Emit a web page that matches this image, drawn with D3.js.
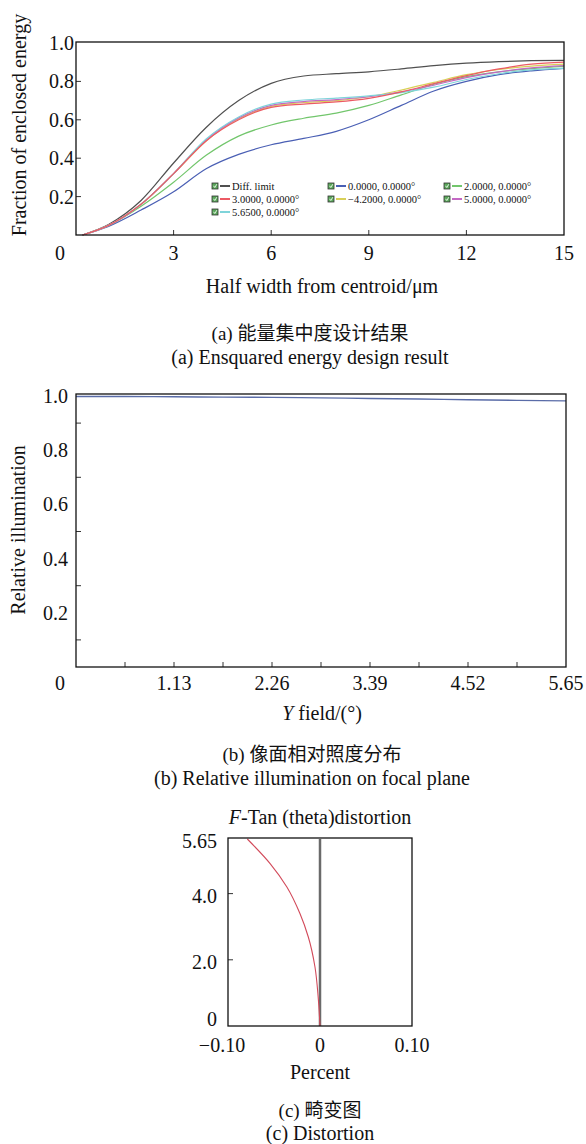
<!DOCTYPE html>
<html>
<head>
<meta charset="utf-8">
<script src="https://cdn.jsdelivr.net/npm/d3@7"></script>
<style>
  body { margin: 0; background: #fff; }
  text { font-family: "Liberation Serif", "Noto Sans CJK SC", serif; fill: #111; }
</style>
</head>
<body>
<div id="chart"></div>
<script>
// ---- data: (a) ensquared energy ----
var eeX = [0.2, 1, 2, 3, 4, 5, 6, 7, 8, 9, 10, 11, 12, 13, 14, 15];
var eeDiff   = [0, 0.055, 0.18, 0.375, 0.56, 0.70, 0.79, 0.828, 0.84, 0.85, 0.865, 0.882, 0.895, 0.903, 0.908, 0.91];
var eeF0     = [0, 0.045, 0.13, 0.225, 0.345, 0.42, 0.47, 0.503, 0.54, 0.60, 0.675, 0.75, 0.80, 0.835, 0.855, 0.868];
var eeF2     = [0, 0.05, 0.15, 0.275, 0.415, 0.515, 0.573, 0.608, 0.635, 0.675, 0.73, 0.785, 0.825, 0.85, 0.867, 0.878];
var eeF3     = [0, 0.05, 0.16, 0.32, 0.49, 0.60, 0.665, 0.682, 0.693, 0.712, 0.745, 0.788, 0.83, 0.865, 0.89, 0.90];
var eeFm42   = [0, 0.05, 0.16, 0.318, 0.49, 0.605, 0.67, 0.69, 0.70, 0.72, 0.755, 0.795, 0.835, 0.862, 0.88, 0.89];
var eeF5     = [0, 0.05, 0.16, 0.32, 0.495, 0.61, 0.675, 0.695, 0.705, 0.72, 0.745, 0.78, 0.82, 0.85, 0.87, 0.882];
var eeF565   = [0, 0.05, 0.16, 0.32, 0.50, 0.615, 0.682, 0.703, 0.713, 0.725, 0.742, 0.77, 0.81, 0.84, 0.86, 0.868];
var eeNames  = ["Diff. limit", "0.0000, 0.0000°", "2.0000, 0.0000°", "3.0000, 0.0000°", "\u22124.2000, 0.0000°", "5.0000, 0.0000°", "5.6500, 0.0000°"];
var eeXTicks = [0, 3, 6, 9, 12, 15];
var eeYTicks = [0.2, 0.4, 0.6, 0.8, 1.0];

// ---- data: (b) relative illumination ----
var riX = [0, 0.565, 1.13, 1.695, 2.26, 2.825, 3.39, 3.955, 4.52, 5.085, 5.65];
var riY = [0.998, 0.998, 0.997, 0.996, 0.995, 0.993, 0.991, 0.989, 0.986, 0.984, 0.982];
var riXTicks = [0, 1.13, 2.26, 3.39, 4.52, 5.65];
var riYTicks = [0.2, 0.4, 0.6, 0.8, 1.0];

// ---- data: (c) distortion ----
var dsField = [0, 0.88, 1.79, 2.69, 3.39, 4.2, 4.9, 5.65];
var dsPct   = [0, -0.002, -0.0055, -0.0127, -0.0217, -0.036, -0.054, -0.079];
var dsXTicks = [-0.10, 0, 0.10];
var dsYTicks = [0, 2.0, 4.0, 5.65];

var W = 586, H = 1144;
var FS = "20px";   // main text size
var svg = d3.select("#chart").append("svg")
  .attr("width", W).attr("height", H)
  .style("background", "#fff");

function label(x, y, txt, anchor, size) {
  return svg.append("text").attr("x", x).attr("y", y)
    .attr("text-anchor", anchor || "middle").attr("dominant-baseline", "central")
    .style("font-size", size || FS).text(txt);
}

function frame(x, y) {
  svg.append("rect")
    .attr("x", x.range()[0]).attr("y", y.range()[1] - 1)
    .attr("width", x.range()[1] - x.range()[0])
    .attr("height", y.range()[0] - y.range()[1] + 1)
    .attr("fill", "none").attr("stroke", "#111").attr("stroke-width", 1.3);
}

// ================= (a) =================
var xA = d3.scaleLinear().domain([0, 15]).range([76, 564]);
var yA = d3.scaleLinear().domain([0, 1]).range([235, 43]);

// inner ticks
svg.append("g").selectAll("line").data([3, 6, 9, 12]).enter().append("line")
  .attr("x1", d => xA(d)).attr("x2", d => xA(d))
  .attr("y1", yA(0)).attr("y2", yA(0) - 5)
  .attr("stroke", "#333");
svg.append("g").selectAll("line").data([0.2, 0.4, 0.6, 0.8]).enter().append("line")
  .attr("x1", xA(0)).attr("x2", xA(0) + 5)
  .attr("y1", d => yA(d)).attr("y2", d => yA(d))
  .attr("stroke", "#333");

var seriesA = [
  { v: eeDiff, c: "#505050" },
  { v: eeF0,   c: "#4a5fb4" },
  { v: eeF2,   c: "#72c66c" },
  { v: eeFm42, c: "#d8d058" },
  { v: eeF5,   c: "#c468c4" },
  { v: eeF565, c: "#7fd4da" },
  { v: eeF3,   c: "#ec5a64" }
];
var lineA = d3.line().x(d => xA(d[0])).y(d => yA(d[1])).curve(d3.curveMonotoneX);
svg.append("g").selectAll("path").data(seriesA).enter().append("path")
  .attr("d", s => lineA(eeX.map((x, i) => [x, s.v[i]])))
  .attr("fill", "none").attr("stroke", s => s.c).attr("stroke-width", 1.2);

frame(xA, yA);

eeXTicks.forEach(d => label(d === 0 ? xA(0) - 16 : xA(d), 253, d));
eeYTicks.forEach(d => label(74, yA(d), d.toFixed(1), "end"));

svg.append("text").attr("transform", "translate(19,125) rotate(-90)")
  .attr("text-anchor", "middle").attr("dominant-baseline", "central")
  .style("font-size", FS).text("Fraction of enclosed energy");
label(322, 286, "Half width from centroid/\u03bcm");

// legend
var legCols = [212, 328, 444], legRows = [186, 199, 212];
var legColor = ["#505050", "#4a5fb4", "#72c66c", "#ec5a64", "#d8d058", "#c468c4", "#7fd4da"];
var leg = svg.append("g").selectAll("g").data(d3.range(eeNames.length)).enter().append("g")
  .attr("transform", i => "translate(" + legCols[i % 3] + "," + legRows[Math.floor(i / 3)] + ")");
leg.append("rect").attr("x", 0).attr("y", -3).attr("width", 6).attr("height", 6)
  .attr("fill", "#5aa85a").attr("stroke", "#333").attr("stroke-width", 0.8);
leg.append("path").attr("d", "M1.5,-0.2 L2.8,1.5 L4.8,-1.8")
  .attr("fill", "none").attr("stroke", "#fff").attr("stroke-width", 0.8);
leg.append("line").attr("x1", 8).attr("x2", 18).attr("y1", 0).attr("y2", 0)
  .attr("stroke", i => legColor[i]).attr("stroke-width", 2);
leg.append("text").attr("x", 20).attr("y", 0).attr("dominant-baseline", "central")
  .style("font-size", "10.5px").text(i => eeNames[i]);

label(310, 333, "(a) 能量集中度设计结果", "middle", "19px");
label(310, 357, "(a) Ensquared energy design result");

// ================= (b) =================
var xB = d3.scaleLinear().domain([0, 5.65]).range([76, 566]);
var yB = d3.scaleLinear().domain([0, 1]).range([667, 396]);

svg.append("g").selectAll("line").data(d3.range(1, 10).map(i => i * 0.565)).enter().append("line")
  .attr("x1", d => xB(d)).attr("x2", d => xB(d))
  .attr("y1", yB(0)).attr("y2", yB(0) - 5)
  .attr("stroke", "#333");
svg.append("g").selectAll("line").data([0.1, 0.3, 0.5, 0.7, 0.9]).enter().append("line")
  .attr("x1", xB(0)).attr("x2", xB(0) + 5)
  .attr("y1", d => yB(d)).attr("y2", d => yB(d))
  .attr("stroke", "#333");

var lineB = d3.line().x(d => xB(d[0])).y(d => yB(d[1])).curve(d3.curveMonotoneX);
svg.append("path").attr("d", lineB(riX.map((x, i) => [x, riY[i]])))
  .attr("fill", "none").attr("stroke", "#5a6ca8").attr("stroke-width", 1.4);

svg.append("rect")
  .attr("x", xB.range()[0]).attr("y", yB(1) - 2)
  .attr("width", xB.range()[1] - xB.range()[0]).attr("height", yB(0) - yB(1) + 2)
  .attr("fill", "none").attr("stroke", "#111").attr("stroke-width", 1.3);

riXTicks.forEach(d => label(d === 0 ? xB(0) - 16 : xB(d), 683, d === 0 ? "0" : d.toFixed(2)));
riYTicks.forEach(d => label(68, yB(d), d.toFixed(1), "end"));

svg.append("text").attr("transform", "translate(18,530) rotate(-90)")
  .attr("text-anchor", "middle").attr("dominant-baseline", "central")
  .style("font-size", FS).text("Relative illumination");
var yt = label(322, 713, "");
yt.append("tspan").style("font-style", "italic").text("Y");
yt.append("tspan").text(" field/(°)");

label(312, 754, "(b) 像面相对照度分布", "middle", "19px");
label(312, 778, "(b) Relative illumination on focal plane");

// ================= (c) =================
var xC = d3.scaleLinear().domain([-0.1, 0.1]).range([228, 412]);
var yC = d3.scaleLinear().domain([0, 5.65]).range([1026, 839]);

var tt = label(320, 817, "");
tt.append("tspan").style("font-style", "italic").text("F");
tt.append("tspan").text("-Tan (theta)distortion");

svg.append("g").selectAll("line").data([2.0, 4.0]).enter().append("line")
  .attr("x1", xC(-0.1)).attr("x2", xC(-0.1) + 5)
  .attr("y1", d => yC(d)).attr("y2", d => yC(d))
  .attr("stroke", "#333");

svg.append("line")
  .attr("x1", xC(0)).attr("x2", xC(0))
  .attr("y1", yC(0)).attr("y2", yC(5.65))
  .attr("stroke", "#6a6a6a").attr("stroke-width", 2.5);

var lineC = d3.line().x(d => xC(d[1])).y(d => yC(d[0])).curve(d3.curveMonotoneY);
svg.append("path").attr("d", lineC(dsField.map((f, i) => [f, dsPct[i]])))
  .attr("fill", "none").attr("stroke", "#d24a5a").attr("stroke-width", 1.1);

frame(xC, yC);

dsYTicks.forEach(d => label(217, d === 0 ? yC(0) - 7 : yC(d) + 2,
  d === 0 ? "0" : (d === 5.65 ? "5.65" : d.toFixed(1)), "end"));
dsXTicks.forEach(d => label(d < 0 ? xC(d) - 6 : xC(d), 1045,
  d === 0 ? "0" : (d < 0 ? "\u22120.10" : "0.10")));

label(320, 1072, "Percent");
label(320, 1110, "(c) 畸变图", "middle", "19px");
label(320, 1133, "(c) Distortion");
</script>
</body>
</html>
